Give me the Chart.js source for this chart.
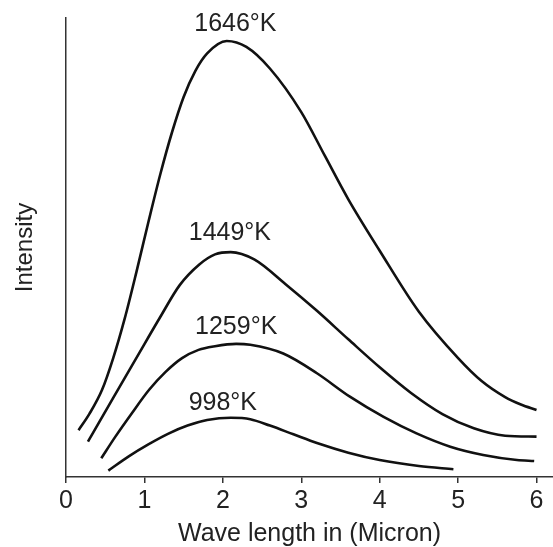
<!DOCTYPE html>
<html lang="en">
<head>
  <meta charset="UTF-8">
  <title>Intensity vs wave length</title>
  <script src="https://cdn.jsdelivr.net/npm/chart.js"></script>
  <style>
    body {
      margin: 0;
      padding: 0;
      background: #fff;
    }
    #wrap {
      width: 553px;
      height: 547px;
    }
  </style>
</head>
<body>
  <div id="wrap">
    <canvas id="planck" width="553" height="547"></canvas>
  </div>

  <script>
    // x ticks (micron)
    const xTicks = [0, 1, 2, 3, 4, 5, 6];

    // curve labels
    const temps = ["1646°K", "1449°K", "1259°K", "998°K"];

    // wave length (micron) / intensity (arbitrary 0..100)
    const x1646 = [0.16, 0.3, 0.46, 0.6, 0.75, 0.9, 1.05, 1.2, 1.35, 1.5, 1.65, 1.8, 2.05, 2.3, 2.6, 3.0, 3.3, 3.6, 4.0, 4.5, 5.0, 5.3, 5.6, 5.8, 6.0];
    const y1646 = [10.2, 13.8, 19.0, 25.8, 34.6, 44.8, 55.5, 65.8, 75.0, 82.8, 88.5, 92.3, 95.0, 93.7, 89.0, 79.5, 70.0, 60.5, 49.3, 36.0, 25.9, 20.9, 17.4, 15.8, 14.6];

    const x1449 = [0.28, 0.6, 0.9, 1.2, 1.45, 1.7, 1.9, 2.1, 2.4, 2.8, 3.2, 3.6, 4.0, 4.4, 4.8, 5.2, 5.6, 6.0];
    const y1449 = [7.7, 17.2, 26.0, 34.8, 41.8, 46.3, 48.5, 49.0, 47.4, 42.0, 36.2, 30.0, 23.9, 18.3, 13.7, 10.6, 9.0, 8.8];

    const x1259 = [0.45, 0.63, 0.84, 1.06, 1.27, 1.48, 1.69, 1.90, 2.17, 2.35, 2.77, 3.2, 3.62, 4.05, 4.47, 4.9, 5.32, 5.75, 5.97];
    const y1259 = [4.1, 8.8, 13.9, 19.0, 22.9, 25.9, 27.7, 28.5, 29.0, 28.8, 26.9, 22.6, 17.5, 13.1, 9.5, 6.6, 4.8, 3.7, 3.5];

    const x998 = [0.54, 0.8, 1.05, 1.3, 1.55, 1.8, 2.1, 2.35, 2.6, 2.9, 3.2, 3.6, 4.0, 4.5, 4.94];
    const y998 = [1.4, 4.5, 7.1, 9.4, 11.2, 12.4, 12.9, 12.6, 11.2, 9.3, 7.4, 5.3, 3.7, 2.4, 1.7];

    // where the temperature labels sit (data units)
    const tagX = [2.16, 2.09, 2.17, 2.0];
    const tagY = [98.6, 53.2, 32.6, 16.2];

    const fontFam = '"Liberation Sans", Arial, Helvetica, sans-serif';
    const ink = '#111';

    function pts(xs, ys) {
      return xs.map((x, i) => ({ x: x, y: ys[i] }));
    }

    function curve(xs, ys) {
      return {
        data: pts(xs, ys),
        borderColor: ink,
        borderWidth: 2.6,
        pointRadius: 0,
        fill: false,
        cubicInterpolationMode: 'monotone'
      };
    }

    // Temperaturen neben die Kurven schreiben
    const tagPlugin = {
      id: 'tags',
      afterDatasetsDraw(chart) {
        const ctx = chart.ctx;
        const xs = chart.scales.x, ys = chart.scales.y;
        ctx.save();
        ctx.fillStyle = '#222';
        ctx.font = '25px ' + fontFam;
        ctx.textAlign = 'center';
        ctx.textBaseline = 'middle';
        temps.forEach((t, i) => {
          ctx.fillText(t, xs.getPixelForValue(tagX[i]), ys.getPixelForValue(tagY[i]));
        });
        ctx.restore();
      }
    };

    const ctx = document.getElementById('planck').getContext('2d');
    new Chart(ctx, {
      type: 'line',
      data: {
        datasets: [
          curve(x1646, y1646),
          curve(x1449, y1449),
          curve(x1259, y1259),
          curve(x998, y998)
        ]
      },
      options: {
        responsive: false,
        animation: false,
        devicePixelRatio: 1,
        layout: { padding: { top: 18, right: 0, left: 0, bottom: 0 } },
        plugins: {
          legend: { display: false },
          tooltip: { enabled: false }
        },
        scales: {
          x: {
            type: 'linear',
            min: 0,
            max: 6.21,
            afterBuildTicks: axis => { axis.ticks = xTicks.map(v => ({ value: v })); },
            afterFit: axis => { axis.height = 70; },
            grid: {
              drawOnChartArea: false,
              drawTicks: true,
              tickLength: 6,
              color: '#333',
              lineWidth: 1.5
            },
            border: { display: true, color: '#333', width: 1.5 },
            ticks: {
              color: '#222',
              padding: 3,
              font: { family: fontFam, size: 25 }
            },
            title: {
              display: true,
              text: 'Wave length in (Micron)',
              color: '#222',
              padding: { top: 0, bottom: 0 },
              font: { family: fontFam, size: 25, lineHeight: 1 }
            }
          },
          y: {
            type: 'linear',
            min: 0,
            max: 100,
            afterFit: axis => { axis.width = 66; },
            grid: { display: false, drawTicks: false },
            border: { display: true, color: '#333', width: 1.5 },
            ticks: { display: false },
            title: {
              display: true,
              text: 'Intensity',
              color: '#222',
              padding: { top: 13, bottom: 0 },
              font: { family: fontFam, size: 24, lineHeight: 1 }
            }
          }
        }
      },
      plugins: [tagPlugin]
    });
  </script>
</body>
</html>
